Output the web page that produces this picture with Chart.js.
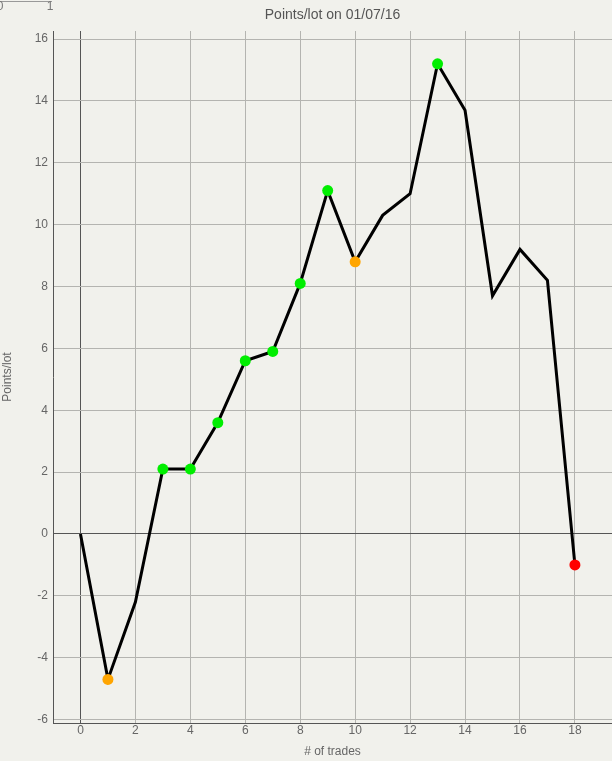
<!DOCTYPE html>
<html>
<head>
<meta charset="utf-8">
<script src="https://cdn.jsdelivr.net/npm/chart.js@4"></script>
<style>
html,body{margin:0;padding:0;background:#f1f1ec;}
#wrap{width:612px;height:761px;}
</style>
</head>
<body>
<div id="wrap"><canvas id="c" width="612" height="761"></canvas></div>
<script>
const trades = [0,1,2,3,4,5,6,7,8,9,10,11,12,13,14,15,16,17,18];
const pointsPerLot = [0,-4.7,-2.2,2.1,2.1,3.6,5.6,5.9,8.1,11.1,8.8,10.3,11.0,15.2,13.7,7.7,9.2,8.2,-1.0];
const markerKind = ['none','dip','none','high','high','high','high','high','high','high','dip','none','none','high','none','none','none','none','last'];
const xTicks = [0,2,4,6,8,10,12,14,16,18];
const yTicks = [-6,-4,-2,0,2,4,6,8,10,12,14,16];
const titleText = 'Points/lot on 01/07/16';
const xTitle = '# of trades';
const yTitle = 'Points/lot';

const kindColor = {none:'rgba(0,0,0,0)', dip:'#ffa500', high:'#00ee00', last:'#ff0000'};
const BG = '#f1f1ec';

const bgPlugin = {
  id:'bg',
  beforeDraw(chart){
    const ctx = chart.ctx;
    ctx.save();
    ctx.fillStyle = BG;
    ctx.fillRect(0,0,chart.width,chart.height);
    ctx.restore();
  },
  afterDraw(chart){
    const ctx = chart.ctx;
    ctx.save();
    ctx.strokeStyle = '#999';
    ctx.lineWidth = 1;
    ctx.beginPath();
    ctx.moveTo(0,1.5); ctx.lineTo(52,1.5);
    ctx.stroke();
    ctx.fillStyle = '#777';
    ctx.font = '12px "Liberation Sans", Arial, sans-serif';
    ctx.textAlign = 'center';
    ctx.textBaseline = 'middle';
    ctx.fillText('0', 0, 7);
    ctx.fillText('1', 50, 7);
    ctx.restore();
  }
};

Chart.defaults.font.family = '"Liberation Sans", Arial, sans-serif';

new Chart(document.getElementById('c'), {
  type:'line',
  data:{
    datasets:[{
      data: trades.map((t,i)=>({x:t,y:pointsPerLot[i]})),
      borderColor:'#000',
      borderWidth:3,
      tension:0,
      fill:false,
      pointRadius: markerKind.map(k=>k==='none'?0:5.5),
      pointHoverRadius: markerKind.map(k=>k==='none'?0:5.5),
      pointBackgroundColor: markerKind.map(k=>kindColor[k]),
      pointBorderWidth:0,
      pointBorderColor: markerKind.map(k=>kindColor[k])
    }]
  },
  options:{
    responsive:false,
    animation:false,
    events:[],
    layout:{padding:{left:0,right:0,top:0,bottom:0}, autoPadding:false},
    plugins:{
      legend:{display:false},
      tooltip:{enabled:false},
      title:{
        display:true,
        text:titleText,
        fullSize:false,
        color:'#555',
        font:{size:14,weight:'normal'},
        padding:{top:6.6,bottom:7.6}
      }
    },
    scales:{
      x:{
        type:'linear',
        min:-1,
        max:19.35,
        afterBuildTicks(s){ s.ticks = xTicks.map(v=>({value:v})); },
        afterFit(s){ s.height = 38; s.paddingLeft = 0; s.paddingRight = 0; },
        ticks:{color:'#666',font:{size:12},padding:0,maxRotation:0},
        grid:{
          color:(c)=> c.tick && c.tick.value===0 ? '#555' : '#b4b4b0',
          lineWidth:1,
          drawTicks:false
        },
        border:{display:true,color:'#555',width:1},
        title:{display:true,text:xTitle,color:'#666',font:{size:12},padding:{top:2,bottom:2}}
      },
      y:{
        type:'linear',
        min:-6.11,
        max:16.26,
        afterBuildTicks(s){ s.ticks = yTicks.map(v=>({value:v})); },
        afterFit(s){ s.width = 53; s.paddingTop = 0; s.paddingBottom = 0; },
        ticks:{color:'#666',font:{size:12},padding:5},
        grid:{
          color:(c)=> c.tick && c.tick.value===0 ? '#555' : '#b4b4b0',
          lineWidth:1,
          drawTicks:false
        },
        border:{display:true,color:'#555',width:1},
        title:{display:true,text:yTitle,color:'#666',font:{size:12},padding:{top:0,bottom:4}}
      }
    }
  },
  plugins:[bgPlugin]
});
</script>
</body>
</html>
